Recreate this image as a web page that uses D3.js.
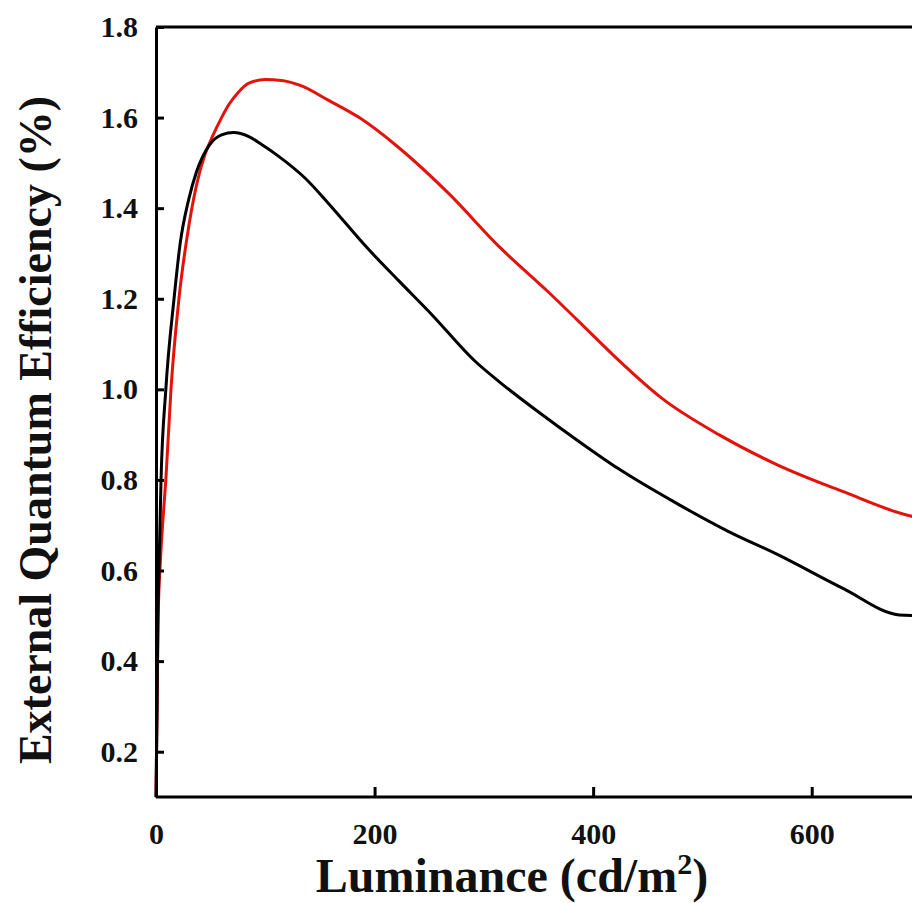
<!DOCTYPE html>
<html>
<head>
<meta charset="utf-8">
<script src="https://cdn.jsdelivr.net/npm/d3@7"></script>
<style>
  body { margin: 0; background: #fff; }
  svg { display: block; }
</style>
</head>
<body>
<div id="vis"></div>
<script>
// EQE vs luminance, two devices

const redLum = [0, 1, 2, 4, 6, 9, 13.7, 21, 30, 37, 45, 52, 60, 67, 75, 85, 100, 115, 132, 158, 186, 222, 268, 314, 359, 405, 423, 463, 515, 568, 629, 686, 700];
const redEqe = [0.1, 0.3, 0.5, 0.62, 0.7, 0.8, 1.0, 1.2, 1.36, 1.45, 1.52, 1.56, 1.6, 1.63, 1.655, 1.676, 1.684, 1.682, 1.671, 1.638, 1.60, 1.534, 1.432, 1.315, 1.215, 1.107, 1.065, 0.98, 0.90, 0.834, 0.774, 0.723, 0.715];

const blackLum = [0, 1, 1.5, 2.7, 4.6, 9, 16.5, 22, 30, 37, 49, 60, 71, 85, 97, 112, 137, 158, 193, 222, 252, 292, 315, 350, 387, 423, 478, 524, 569, 629, 680, 700];
const blackEqe = [0.1, 0.3, 0.45, 0.6, 0.8, 1.0, 1.2, 1.32, 1.42, 1.48, 1.54, 1.562, 1.567, 1.558, 1.54, 1.515, 1.465, 1.41, 1.313, 1.24, 1.166, 1.062, 1.015, 0.95, 0.885, 0.825, 0.746, 0.686, 0.635, 0.56, 0.502, 0.50];

const xTicks = [0, 200, 400, 600];
const yTicks = [0.2, 0.4, 0.6, 0.8, 1.0, 1.2, 1.4, 1.6, 1.8];

const width = 912;
const height = 903;
const margin = {top: 28, left: 156, bottom: 107};
const plotRight = 921;

const svg = d3.select("#vis")
  .append("svg")
    .attr("width", width)
    .attr("height", height);

const x = d3.scaleLinear()
    .domain([0, 700])
    .range([margin.left, plotRight]);

const y = d3.scaleLinear()
    .domain([0.1, 1.8])
    .range([height - margin.bottom + 1, margin.top - 1]);

const font = "'Liberation Serif', 'Times New Roman', serif";

// frame (top and right sides, right side falls off the page)
svg.append("path")
  .attr("d", "M" + x(0) + "," + y(1.8) + "H" + x(700) + "V" + y(0.1))
  .attr("fill", "none")
  .attr("stroke", "#000")
  .attr("stroke-width", 3);

// curves
const line = d3.line()
  .x(d => x(d[0]))
  .y(d => y(d[1]))
  .curve(d3.curveMonotoneX);

const redData = redLum.map((v, i) => [v, redEqe[i]]);
const blackData = blackLum.map((v, i) => [v, blackEqe[i]]);

svg.append("path")
  .datum(redData)
  .attr("fill", "none")
  .attr("stroke", "#e3120b")
  .attr("stroke-width", 3)
  .attr("d", line);

svg.append("path")
  .datum(blackData)
  .attr("fill", "none")
  .attr("stroke", "#000")
  .attr("stroke-width", 3)
  .attr("d", line);

// axes
const xAxis = svg.append("g")
  .attr("transform", "translate(0," + y(0.1) + ")")
  .call(d3.axisBottom(x).tickValues(xTicks).tickSize(-10).tickSizeOuter(0).tickPadding(26));

const yAxis = svg.append("g")
  .attr("transform", "translate(" + x(0) + ",0)")
  .call(d3.axisLeft(y).tickValues(yTicks).tickFormat(d3.format(".1f")).tickSize(-8).tickSizeOuter(0).tickPadding(18));

[xAxis, yAxis].forEach(a => {
  a.select(".domain").attr("stroke-width", 3);
  a.selectAll(".tick line").attr("stroke-width", 3);
  a.selectAll(".tick text")
    .attr("font-family", font)
    .attr("font-weight", "bold")
    .attr("font-size", "30px")
    .attr("fill", "#111");
});
xAxis.select(".domain").attr("d", "M" + x(0) + ",0H" + plotRight);

// axis titles
const xTitle = svg.append("text")
  .attr("x", 512)
  .attr("y", 892)
  .attr("text-anchor", "middle")
  .attr("font-family", font)
  .attr("font-weight", "bold")
  .attr("font-size", "48px")
  .attr("fill", "#111");
xTitle.append("tspan").text("Luminance (cd/m");
xTitle.append("tspan").attr("dy", -18).attr("font-size", "30px").text("2");
xTitle.append("tspan").attr("dy", 18).text(")");

svg.append("text")
  .attr("transform", "translate(51,430) rotate(-90)")
  .attr("text-anchor", "middle")
  .attr("font-family", font)
  .attr("font-weight", "bold")
  .attr("font-size", "46px")
  .attr("fill", "#111")
  .text("External Quantum Efficiency (%)");
</script>
</body>
</html>
